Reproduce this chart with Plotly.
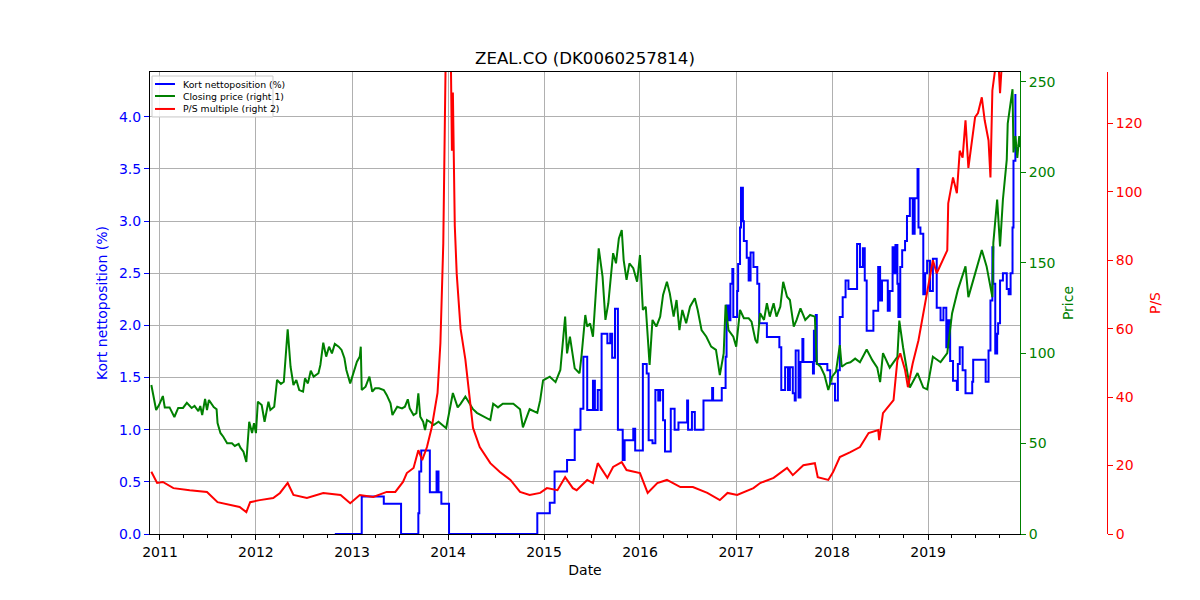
import pandas as pd
import plotly.graph_objects as go

# ---- data (x in decimal years) ----
price_t = [2010.91, 2010.96, 2010.99, 2011.03, 2011.05, 2011.10, 2011.15, 2011.19, 2011.24, 2011.28,
           2011.33, 2011.36, 2011.40, 2011.42, 2011.44, 2011.47, 2011.49, 2011.51, 2011.56, 2011.59,
           2011.60, 2011.63, 2011.66, 2011.70, 2011.75, 2011.78, 2011.82, 2011.84, 2011.87, 2011.90,
           2011.93, 2011.96, 2011.98, 2012.00, 2012.02, 2012.06, 2012.09, 2012.13, 2012.15, 2012.19,
           2012.22, 2012.26, 2012.29, 2012.33, 2012.36, 2012.39, 2012.42, 2012.45, 2012.49, 2012.51,
           2012.54, 2012.57, 2012.60, 2012.65, 2012.67, 2012.70, 2012.73, 2012.76, 2012.79, 2012.82,
           2012.86, 2012.89, 2012.92, 2012.94, 2012.98, 2013.01, 2013.05, 2013.08, 2013.09, 2013.10,
           2013.14, 2013.18, 2013.21, 2013.24, 2013.28, 2013.33, 2013.36, 2013.40, 2013.42, 2013.47,
           2013.52, 2013.55, 2013.58, 2013.60, 2013.64, 2013.67, 2013.69, 2013.71, 2013.74, 2013.76,
           2013.78, 2013.81, 2013.85, 2013.90, 2013.94, 2013.98, 2014.01, 2014.05, 2014.10, 2014.13,
           2014.18, 2014.26, 2014.30, 2014.44, 2014.47, 2014.52, 2014.57, 2014.68, 2014.75, 2014.78,
           2014.85, 2014.93, 2014.96, 2014.99, 2015.06, 2015.12, 2015.17, 2015.22, 2015.24, 2015.27,
           2015.32, 2015.37, 2015.39, 2015.43, 2015.45, 2015.48, 2015.51, 2015.54, 2015.57, 2015.61,
           2015.64, 2015.67, 2015.70, 2015.72, 2015.75, 2015.78, 2015.81, 2015.83, 2015.86, 2015.89,
           2015.93, 2015.97, 2016.00, 2016.03, 2016.06, 2016.10, 2016.13, 2016.17, 2016.21, 2016.24,
           2016.28, 2016.31, 2016.35, 2016.38, 2016.41, 2016.44, 2016.48, 2016.52, 2016.57, 2016.60,
           2016.64, 2016.69, 2016.74, 2016.79, 2016.83, 2016.87, 2016.89, 2016.92, 2016.97, 2017.00,
           2017.04, 2017.08, 2017.13, 2017.16, 2017.20, 2017.22, 2017.25, 2017.29, 2017.32, 2017.35,
           2017.39, 2017.42, 2017.46, 2017.49, 2017.53, 2017.56, 2017.60, 2017.63, 2017.67, 2017.72,
           2017.77, 2017.82, 2017.84, 2017.88, 2017.92, 2017.96, 2018.00, 2018.04, 2018.08, 2018.10,
           2018.15, 2018.19, 2018.24, 2018.29, 2018.36, 2018.42, 2018.47, 2018.50, 2018.53, 2018.60,
           2018.68, 2018.70, 2018.74, 2018.81, 2018.89, 2018.95, 2018.99, 2019.05, 2019.13, 2019.20,
           2019.25, 2019.31, 2019.39, 2019.42, 2019.49, 2019.56, 2019.61, 2019.67, 2019.68, 2019.72,
           2019.75, 2019.78, 2019.82, 2019.83, 2019.88, 2019.89, 2019.91, 2019.93, 2019.95, 2019.96]
price_v = [82.4, 68.6, 71.3, 76.3, 70.0, 70.0, 64.7, 69.7, 69.7, 72.5,
           69.7, 70.8, 68.0, 70.8, 65.8, 74.7, 68.6, 74.1, 70.2, 69.0,
           61.4, 55.9, 53.8, 50.2, 50.2, 48.7, 49.8, 47.6, 45.5, 39.8,
           62.1, 55.8, 61.3, 55.8, 73.2, 71.3, 62.1, 73.2, 68.6, 70.4,
           85.2, 83.0, 84.2, 113.2, 92.5, 82.4, 85.2, 79.6, 78.7, 86.1,
           83.3, 90.3, 87.0, 88.9, 93.5, 105.8, 98.1, 103.6, 99.9, 105.1,
           103.6, 101.8, 97.2, 90.7, 83.3, 88.9, 95.3, 98.1, 103.6, 79.6,
           81.5, 87.0, 78.7, 80.6, 80.6, 79.6, 76.9, 72.3, 65.8, 70.4,
           69.5, 70.4, 74.5, 69.5, 65.8, 66.8, 77.8, 64.9, 62.1, 57.5,
           63.0, 62.1, 60.3, 62.1, 60.3, 58.5, 66.8, 78.0, 70.0, 72.0,
           76.0, 69.0, 67.0, 63.0, 72.0, 70.0, 72.0, 72.0, 69.0, 59.0,
           69.0, 67.0, 74.0, 85.0, 87.0, 84.0, 90.7, 120.2, 99.9, 109.1,
           91.6, 88.9, 98.1, 121.1, 114.7, 116.5, 109.1, 135.0, 158.0, 142.3,
           118.4, 127.6, 146.0, 155.3, 149.7, 163.5, 168.1, 151.5, 140.5, 149.7,
           147.0, 139.5, 154.3, 123.9, 125.7, 93.5, 118.4, 114.7, 120.2, 132.2,
           139.5, 133.1, 120.2, 129.4, 112.8, 123.9, 116.5, 125.7, 130.4, 123.9,
           112.8, 109.1, 103.6, 101.8, 87.9, 99.9, 126.7, 112.8, 109.1, 103.6,
           123.9, 119.3, 119.3, 117.4, 107.3, 105.5, 122.1, 118.4, 127.6, 120.2,
           127.6, 120.2, 125.7, 139.5, 131.2, 129.4, 114.7, 118.4, 124.8, 118.4,
           121.1, 120.2, 94.4, 92.5, 87.9, 79.6, 87.0, 89.8, 104.5, 92.5,
           94.4, 95.0, 97.0, 95.0, 102.0, 96.0, 92.0, 84.0, 100.0, 92.0,
           98.0, 118.0, 103.0, 81.0, 89.0, 81.0, 80.0, 98.0, 95.0, 100.0,
           122.0, 135.0, 148.0, 131.0, 144.0, 157.0, 148.0, 131.0, 161.0, 185.0,
           159.0, 185.0, 207.0, 227.0, 246.0, 211.0, 220.0, 208.0, 220.0, 214.0]

ps_t = [2010.91, 2010.97, 2011.03, 2011.14, 2011.31, 2011.49, 2011.60, 2011.73, 2011.83, 2011.90,
        2011.94, 2012.04, 2012.18, 2012.25, 2012.33, 2012.39, 2012.53, 2012.70, 2012.88, 2012.98,
        2013.08, 2013.22, 2013.36, 2013.45, 2013.53, 2013.57, 2013.64, 2013.69, 2013.73, 2013.78,
        2013.83, 2013.89, 2013.92, 2013.95, 2013.98, 2014.02, 2014.03, 2014.04, 2014.05, 2014.07,
        2014.09, 2014.13, 2014.18, 2014.21, 2014.26, 2014.33, 2014.44, 2014.54, 2014.65, 2014.75,
        2014.85, 2014.96, 2015.03, 2015.14, 2015.22, 2015.30, 2015.34, 2015.45, 2015.51, 2015.56,
        2015.66, 2015.72, 2015.81, 2015.86, 2016.00, 2016.08, 2016.18, 2016.28, 2016.42, 2016.55,
        2016.70, 2016.83, 2016.91, 2017.01, 2017.18, 2017.25, 2017.39, 2017.53, 2017.59, 2017.70,
        2017.82, 2017.85, 2017.96, 2018.01, 2018.08, 2018.19, 2018.29, 2018.38, 2018.48, 2018.49,
        2018.53, 2018.64, 2018.68, 2018.71, 2018.76, 2018.79, 2018.84, 2018.90, 2018.95, 2018.99,
        2019.02, 2019.05, 2019.09, 2019.15, 2019.20, 2019.21, 2019.26, 2019.30, 2019.33, 2019.36,
        2019.39, 2019.42, 2019.46, 2019.49, 2019.52, 2019.56, 2019.59, 2019.63, 2019.65, 2019.67,
        2019.70, 2019.73, 2019.75, 2019.77, 2019.85, 2019.96]
ps_v = [18.2, 14.9, 15.2, 13.4, 12.8, 12.3, 9.3, 8.5, 7.9, 6.4,
        9.3, 9.9, 10.5, 12.0, 14.9, 11.4, 10.5, 12.0, 11.4, 9.0,
        11.4, 10.8, 12.3, 12.3, 15.2, 17.8, 19.3, 24.5, 21.6, 25.4,
        31.2, 41.2, 55.8, 85.0, 150.0, 160.0, 129.0, 112.0, 129.0, 90.0,
        76.0, 60.0, 51.0, 43.0, 31.0, 25.4, 20.7, 18.1, 15.8, 12.3,
        11.4, 12.0, 13.4, 12.8, 16.6, 13.4, 12.8, 15.8, 14.9, 20.7,
        16.4, 19.6, 21.0, 18.7, 17.8, 12.0, 14.9, 15.8, 13.7, 13.7,
        12.0, 9.9, 12.0, 11.4, 13.4, 14.9, 16.4, 19.3, 17.2, 20.1,
        20.7, 16.6, 15.8, 18.1, 22.5, 23.9, 25.4, 29.5, 30.4, 27.4,
        35.3, 39.1, 50.8, 52.8, 47.9, 42.9, 49.9, 56.6, 64.5, 70.4,
        76.2, 80.0, 76.2, 80.0, 82.9, 96.6, 104.2, 99.6, 112.0, 110.0,
        120.9, 107.0, 115.0, 121.8, 123.0, 127.6, 120.9, 115.0, 104.2, 129.6,
        136.0, 140.0, 128.8, 138.0, 145.0, 150.0]

short_t = [2012.82, 2013.10, 2013.33, 2013.51, 2013.69, 2013.70, 2013.72, 2013.81, 2013.88, 2013.90,
           2013.93, 2014.01, 2014.93, 2015.06, 2015.11, 2015.24, 2015.32, 2015.38, 2015.41, 2015.45,
           2015.51, 2015.53, 2015.56, 2015.59, 2015.60, 2015.66, 2015.69, 2015.71, 2015.74, 2015.77,
           2015.82, 2015.84, 2015.93, 2015.95, 2016.03, 2016.07, 2016.09, 2016.13, 2016.16, 2016.19,
           2016.21, 2016.24, 2016.26, 2016.32, 2016.36, 2016.40, 2016.49, 2016.50, 2016.54, 2016.57,
           2016.66, 2016.75, 2016.76, 2016.85, 2016.89, 2016.90, 2016.92, 2016.94, 2016.96, 2016.97,
           2017.01, 2017.02, 2017.04, 2017.05, 2017.07, 2017.08, 2017.11, 2017.13, 2017.15, 2017.18,
           2017.22, 2017.24, 2017.32, 2017.45, 2017.47, 2017.51, 2017.54, 2017.56, 2017.59, 2017.61,
           2017.62, 2017.65, 2017.67, 2017.69, 2017.70, 2017.80, 2017.81, 2017.82, 2017.83, 2017.84,
           2017.95, 2017.98, 2018.03, 2018.06, 2018.08, 2018.11, 2018.14, 2018.17, 2018.26, 2018.29,
           2018.32, 2018.34, 2018.36, 2018.43, 2018.48, 2018.50, 2018.52, 2018.58, 2018.60, 2018.63,
           2018.64, 2018.66, 2018.68, 2018.69, 2018.71, 2018.73, 2018.76, 2018.78, 2018.81, 2018.84,
           2018.86, 2018.89, 2018.90, 2018.92, 2018.95, 2018.97, 2018.99, 2019.02, 2019.05, 2019.09,
           2019.13, 2019.16, 2019.19, 2019.21, 2019.23, 2019.26, 2019.30, 2019.31, 2019.33, 2019.36,
           2019.39, 2019.46, 2019.47, 2019.60, 2019.63, 2019.65, 2019.67, 2019.68, 2019.70, 2019.72,
           2019.73, 2019.75, 2019.78, 2019.82, 2019.84, 2019.86, 2019.88, 2019.89, 2019.91]
short_v = [0.0, 0.36, 0.29, 0.0, 0.2, 0.6, 0.8, 0.4, 0.6, 0.4,
           0.29, 0.0, 0.2, 0.3, 0.6, 0.71, 1.0, 1.2, 1.7, 1.19,
           1.47, 1.19, 1.38, 1.19, 1.92, 1.83, 1.92, 1.69, 2.16, 1.0,
           0.71, 0.9, 1.01, 0.8, 1.63, 1.54, 0.9, 0.87, 1.38, 1.28,
           1.38, 1.09, 0.79, 1.2, 1.0, 1.07, 1.28, 1.0, 1.17, 1.0,
           1.28, 1.4, 1.28, 1.4, 1.7, 2.19, 2.05, 2.4, 2.54, 2.08,
           2.33, 2.59, 2.94, 3.32, 3.0, 2.81, 2.65, 2.43, 2.7, 2.56,
           2.4, 2.02, 1.89, 1.79, 1.38, 1.6, 1.38, 1.6, 1.35, 1.28,
           1.76, 1.31, 1.65, 1.87, 1.65, 1.54, 1.95, 1.66, 2.1, 1.63,
           1.57, 1.44, 1.28, 1.57, 2.08, 2.27, 2.43, 2.35, 2.78, 2.56,
           2.74, 2.43, 1.95, 2.14, 2.56, 2.24, 2.43, 2.14, 2.33, 2.75,
           2.5, 2.77, 2.4, 2.08, 2.56, 2.72, 2.81, 3.05, 3.22, 2.88,
           3.22, 3.5, 2.94, 2.88, 2.3, 2.5, 2.62, 2.33, 2.64, 2.17,
           2.05, 2.17, 1.79, 2.05, 1.66, 1.47, 1.38, 1.63, 1.79, 1.57,
           1.35, 1.46, 1.67, 1.46, 1.76, 2.24, 2.75, 2.4, 1.73, 1.92,
           2.02, 2.43, 2.5, 2.35, 2.3, 2.5, 2.94, 3.58, 4.22]

legend_names = ["Kort nettoposition (%)", "Closing price (right 1)", "P/S multiple (right 2)"]
legend_colors = ["blue", "green", "red"]


def to_date(y):
    yr = int(y)
    a = pd.Timestamp(yr, 1, 1)
    b = pd.Timestamp(yr + 1, 1, 1)
    return a + (b - a) * (y - yr)


FONT = "DejaVu Sans"
fig = go.Figure()
fig.add_trace(go.Scatter(x=[to_date(t) for t in short_t], y=short_v, mode="lines",
                         line=dict(color="blue", width=2, shape="hv"),
                         name=legend_names[0], yaxis="y"))
fig.add_trace(go.Scatter(x=[to_date(t) for t in price_t], y=price_v, mode="lines",
                         line=dict(color="green", width=2),
                         name=legend_names[1], yaxis="y2"))
fig.add_trace(go.Scatter(x=[to_date(t) for t in ps_t], y=ps_v, mode="lines",
                         line=dict(color="red", width=2),
                         name=legend_names[2], yaxis="y3"))

# compact matplotlib-like legend drawn with shapes + annotations (paper coords)
shapes = [dict(type="rect", xref="paper", yref="paper",
               x0=0.0021, x1=0.1285, y0=0.9026, y1=0.9913,
               fillcolor="rgba(255,255,255,0.85)", line=dict(color="#cccccc", width=1),
               layer="above")]
annotations = []
legend_y = [0.974, 0.948, 0.920]
for name, col, ly in zip(legend_names, legend_colors, legend_y):
    shapes.append(dict(type="line", xref="paper", yref="paper",
                       x0=0.0052, x1=0.0261, y0=ly, y1=ly,
                       line=dict(color=col, width=2), layer="above"))
    annotations.append(dict(text=name, xref="paper", yref="paper", x=0.0319, y=ly,
                            xanchor="left", yanchor="middle", showarrow=False,
                            font=dict(family=FONT, size=9.3, color="black")))

fig.update_layout(
    width=1200, height=600,
    margin=dict(l=150, r=93, t=72, b=66),
    paper_bgcolor="white", plot_bgcolor="white",
    font=dict(family=FONT, size=14, color="black"),
    title=dict(text="ZEAL.CO (DK0060257814)", xref="container", x=585 / 1200, xanchor="center",
               y=1 - 58 / 600, yanchor="middle", font=dict(size=16.6, color="black")),
    showlegend=False,
    shapes=shapes,
    annotations=annotations,
    xaxis=dict(
        domain=[0, 870 / 957],
        type="date",
        range=[to_date(2010.896), to_date(2019.958)],
        tick0="2011-01-01", dtick="M12", tickformat="%Y",
        ticks="outside", ticklen=5, tickcolor="black", tickwidth=1,
        showline=True, linecolor="black", linewidth=1, mirror=True,
        showgrid=True, gridcolor="#b0b0b0", gridwidth=1,
        minor=dict(ticks="outside", dtick="M3", tick0="2011-01-01", ticklen=3,
                   tickcolor="black", showgrid=False),
        title=dict(text="Date", standoff=6, font=dict(size=14)),
        tickfont=dict(size=14, color="black"),
        zeroline=False,
    ),
    yaxis=dict(
        range=[0, 4.43], dtick=0.5, tick0=0, tickformat=".1f",
        ticks="outside", ticklen=5, tickcolor="blue", tickwidth=1,
        tickfont=dict(size=14, color="blue"),
        showline=True, linecolor="black", linewidth=1,
        showgrid=True, gridcolor="#b0b0b0", gridwidth=1, zeroline=False,
        title=dict(text="Kort nettoposition (%)", font=dict(size=14, color="blue"), standoff=8),
    ),
    yaxis2=dict(
        overlaying="y", side="right", anchor="x",
        range=[0, 255.5], dtick=50, tick0=0,
        ticks="outside", ticklen=5, tickcolor="green", tickwidth=1,
        tickfont=dict(size=14, color="green"),
        showline=True, linecolor="green", linewidth=1,
        showgrid=False, zeroline=False,
        title=dict(text="Price", font=dict(size=14, color="green"), standoff=8),
    ),
    yaxis3=dict(
        overlaying="y", side="right", anchor="free", position=1.0,
        range=[0, 135], dtick=20, tick0=0,
        ticks="outside", ticklen=5, tickcolor="red", tickwidth=1,
        tickfont=dict(size=14, color="red"),
        showline=True, linecolor="red", linewidth=1,
        showgrid=False, zeroline=False,
        title=dict(text="P/S", font=dict(size=14, color="red"), standoff=8),
    ),
)

fig.write_html("out.html")
